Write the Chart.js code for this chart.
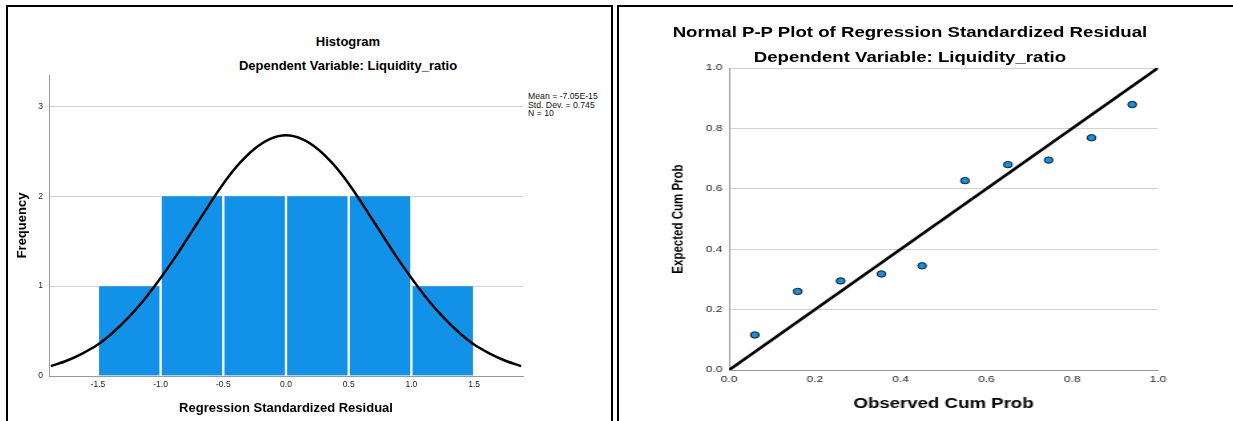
<!DOCTYPE html>
<html>
<head>
<meta charset="utf-8">
<script src="https://cdn.jsdelivr.net/npm/chart.js@4.4.0/dist/chart.umd.min.js"></script>
<style>
  html, body { margin: 0; padding: 0; background: #fff; }
  body { width: 1233px; height: 421px; overflow: hidden; position: relative; font-family: "Liberation Sans", Arial, sans-serif; }
  .panel { position: absolute; border: 2px solid #000; border-bottom: none; box-sizing: content-box; }
  .title { position: absolute; transform: translateX(-50%); white-space: nowrap; font-weight: bold; color: #000; line-height: 16px; }
  #stats { position: absolute; left: 528px; top: 92px; font-size: 8.7px; line-height: 8.5px; color: #111; white-space: nowrap; }
  #hist { position: absolute; left: 9px; top: 7px; }
  #ppWrap { position: absolute; left: 620px; top: 7px; width: 460px; height: 414px; transform: scaleX(1.33); transform-origin: 0 0; }
  #pp { position: absolute; left: 0; top: 0; }
</style>
</head>
<body>
<div class="panel" style="left:6px; top:5px; width:603px; height:430px;"></div>
<div class="panel" style="left:617px; top:5px; width:700px; height:430px;"></div>

<div class="title" style="left:348px; top:34px; font-size:13px;">Histogram</div>
<div class="title" style="left:348px; top:58px; font-size:13px;">Dependent Variable: Liquidity_ratio</div>
<div id="stats">Mean = -7.05E-15<br>Std. Dev. = 0.745<br>N = 10</div>
<canvas id="hist" width="602" height="414"></canvas>

<div id="ppWrap">
  <div class="title" style="left:218px; top:17px; font-size:14px;">Normal P-P Plot of Regression Standardized Residual</div>
  <div class="title" style="left:218px; top:42px; font-size:14px;">Dependent Variable: Liquidity_ratio</div>
  <canvas id="pp" width="460" height="414"></canvas>
</div>

<script>
// histogram of regression standardized residuals
const histBinMid = [-1.25, -0.75, -0.25, 0.25, 0.75, 1.25];
const histFreq = [1, 2, 2, 2, 2, 1];
const histXTicks = [-1.5, -1.0, -0.5, 0.0, 0.5, 1.0, 1.5];
const histYTicks = [0, 1, 2, 3];

// normal curve
const curveX = [-1.875, -1.75, -1.625, -1.5, -1.375, -1.25, -1.125, -1.0, -0.875, -0.75, -0.625, -0.5, -0.375, -0.25, -0.125,
  0, 0.125, 0.25, 0.375, 0.5, 0.625, 0.75, 0.875, 1.0, 1.125, 1.25, 1.375, 1.5, 1.625, 1.75, 1.875];
const curveY = [0.11, 0.17, 0.25, 0.35, 0.49, 0.66, 0.86, 1.09, 1.34, 1.61, 1.88, 2.14, 2.36, 2.53, 2.64,
  2.68, 2.64, 2.53, 2.36, 2.14, 1.88, 1.61, 1.34, 1.09, 0.86, 0.66, 0.49, 0.35, 0.25, 0.17, 0.11];

// P-P plot
const observedCum = [0.06, 0.16, 0.26, 0.355, 0.45, 0.55, 0.65, 0.745, 0.845, 0.94];
const expectedCum = [0.116, 0.26, 0.295, 0.318, 0.345, 0.627, 0.68, 0.695, 0.769, 0.879];
const diagonal = [0, 1];
const ppTicks = [0, 0.2, 0.4, 0.6, 0.8, 1.0];

Chart.defaults.font.family = '"Liberation Sans", Arial, sans-serif';

const fixTicks = vals => scale => { scale.ticks = vals.map(v => ({ value: v })); };
const blue = '#1192e8';

new Chart(document.getElementById('hist'), {
  type: 'bar',
  data: {
    datasets: [
      {
        type: 'line',
        data: curveX.map((x, i) => ({ x, y: curveY[i] })),
        borderColor: '#000',
        borderWidth: 2.5,
        pointRadius: 0,
        cubicInterpolationMode: 'monotone',
        order: 0,
      },
      {
        type: 'bar',
        data: histBinMid.map((x, i) => ({ x, y: histFreq[i] })),
        backgroundColor: blue,
        borderColor: '#fff',
        borderWidth: { left: 1.5, right: 1.5, top: 0, bottom: 0 },
        borderSkipped: false,
        barPercentage: 1,
        categoryPercentage: 1,
        order: 1,
      },
    ],
  },
  options: {
    responsive: false,
    animation: false,
    devicePixelRatio: 1,
    layout: { padding: { top: 68, right: 88, left: 0, bottom: 0 } },
    plugins: { legend: { display: false }, tooltip: { enabled: false } },
    scales: {
      x: {
        type: 'linear',
        min: -1.89,
        max: 1.89,
        offset: false,
        afterBuildTicks: fixTicks(histXTicks),
        afterFit: s => { s.height = 45; },
        grid: { display: false, drawTicks: false },
        border: { color: '#999' },
        ticks: { color: '#222', font: { size: 8.5 }, padding: 4, maxRotation: 0, autoSkip: false, callback: v => v.toFixed(1) },
        title: { display: true, text: 'Regression Standardized Residual', color: '#000', font: { size: 13, weight: 'bold' }, padding: { top: 0, bottom: 5.2 } },
      },
      y: {
        min: 0,
        max: 3.35,
        afterBuildTicks: fixTicks(histYTicks),
        afterFit: s => { s.width = 40; },
        grid: { drawTicks: false, color: c => (c.tick && c.tick.value === 0 ? 'rgba(0,0,0,0)' : '#d0d0d0') },
        border: { color: '#999' },
        ticks: { color: '#222', font: { size: 8.5 }, padding: 6, autoSkip: false },
        title: { display: true, text: 'Frequency', color: '#000', font: { size: 13, weight: 'bold' }, padding: { top: 5.2, bottom: 0 } },
      },
    },
  },
});

new Chart(document.getElementById('pp'), {
  type: 'scatter',
  data: {
    datasets: [
      {
        data: observedCum.map((x, i) => ({ x, y: expectedCum[i] })),
        backgroundColor: blue,
        borderColor: '#111',
        borderWidth: 1,
        pointRadius: 3.2,
        order: 0,
      },
      {
        type: 'line',
        data: diagonal.map(v => ({ x: v, y: v })),
        borderColor: '#000',
        borderWidth: 2.6,
        pointRadius: 0,
        order: 1,
      },
    ],
  },
  options: {
    responsive: false,
    animation: false,
    devicePixelRatio: 1,
    layout: { padding: { top: 61, right: 55.5, left: 0, bottom: 0 } },
    plugins: { legend: { display: false }, tooltip: { enabled: false } },
    scales: {
      x: {
        type: 'linear',
        min: 0,
        max: 1,
        afterBuildTicks: fixTicks(ppTicks),
        afterFit: s => { s.height = 51; },
        grid: { display: false, drawTicks: false },
        border: { color: '#999' },
        ticks: { color: '#222', font: { size: 9 }, padding: 4.6, maxRotation: 0, autoSkip: false, callback: v => v.toFixed(1) },
        title: { display: true, text: 'Observed Cum Prob', color: '#000', font: { size: 14, weight: 'bold' }, padding: { top: 0, bottom: 8.6 } },
      },
      y: {
        min: 0,
        max: 1,
        afterBuildTicks: fixTicks(ppTicks),
        afterFit: s => { s.width = 82; },
        grid: { drawTicks: false, color: c => (c.tick && c.tick.value === 0 ? 'rgba(0,0,0,0)' : '#d0d0d0') },
        border: { color: '#999' },
        ticks: { color: '#222', font: { size: 9 }, padding: 5, autoSkip: false, callback: v => v.toFixed(1) },
        title: { display: true, text: 'Expected Cum Prob', color: '#000', font: { size: 11.5, weight: 'bold' }, padding: { top: 37, bottom: 0 } },
      },
    },
  },
});
</script>
</body>
</html>
